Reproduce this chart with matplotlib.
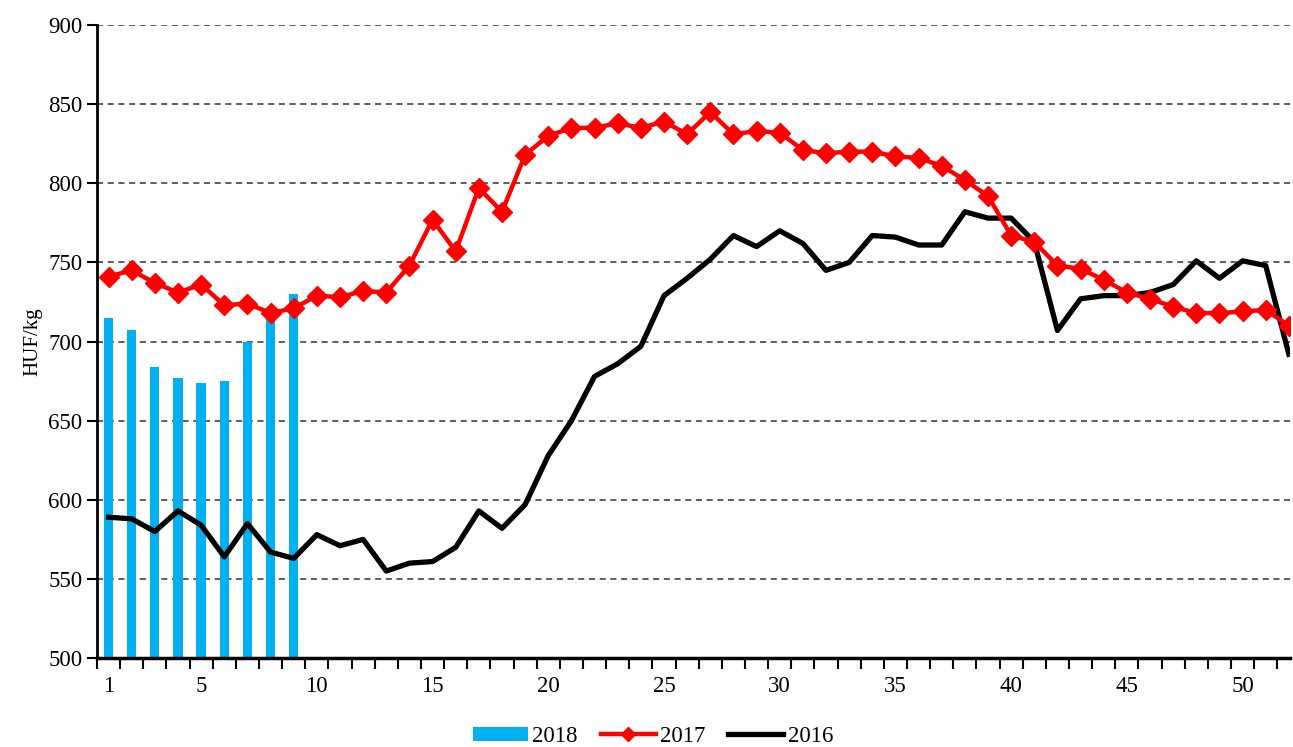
import matplotlib
matplotlib.use('Agg')
import matplotlib.pyplot as plt
from matplotlib.ticker import FixedLocator, NullFormatter

plt.rcParams['font.family'] = ['Liberation Serif', 'DejaVu Serif']

weeks = list(range(1, 53))

weeks_2018 = list(range(1, 10))
price_2018 = [715, 707, 684, 677, 674, 675, 700, 717, 730]

price_2017 = [741, 745, 737, 731, 736, 723, 724, 718, 721, 729,
              728, 732, 731, 748, 777, 757, 797, 782, 818, 830,
              835, 835, 838, 835, 839, 831, 845, 831, 833, 832,
              821, 819, 820, 820, 817, 816, 811, 802, 792, 767,
              763, 748, 746, 739, 731, 727, 722, 718, 718, 719,
              720, 710]

price_2016 = [589, 588, 580, 593, 584, 564, 585, 567, 563, 578,
              571, 575, 555, 560, 561, 570, 593, 582, 597, 628,
              650, 678, 686, 697, 729, 740, 752, 767, 760, 770,
              762, 745, 750, 767, 766, 761, 761, 782, 778, 778,
              763, 707, 727, 729, 729, 731, 736, 751, 740, 751,
              748, 692]


def driver():
    fig = plt.figure(figsize=(12.93, 7.47), dpi=100)
    ax = fig.add_axes([0.075, 0.119, 0.9227, 0.8475])

    bars = ax.bar(weeks_2018, price_2018, width=0.4, bottom=0, color='#00B0F0',
                  label='2018', zorder=2)
    l17, = ax.plot(weeks, price_2017, color='#FF0000', lw=3.2, marker='D',
                   markersize=10, label='2017', zorder=4)
    l16, = ax.plot(weeks, price_2016, color='black', lw=3.8, label='2016', zorder=3)

    ax.set_ylim(500, 900)
    ax.set_xlim(0.5, 52.05)
    ax.set_yticks(range(500, 901, 50))
    ax.yaxis.grid(True, linestyle=(0, (4, 3)), color='#333333', lw=1.1, zorder=0)
    ax.set_axisbelow(True)

    ax.set_xticks([1, 5, 10, 15, 20, 25, 30, 35, 40, 45, 50])
    ax.xaxis.set_minor_locator(FixedLocator([w + 0.5 for w in range(0, 52)]))
    ax.xaxis.set_minor_formatter(NullFormatter())
    ax.tick_params(axis='x', which='major', length=0, pad=13, labelsize=16.5)
    ax.tick_params(axis='x', which='minor', length=8, width=1.5, direction='out')
    ax.tick_params(axis='y', length=7, width=1.5, direction='out', labelsize=16.5)

    for s in ['top', 'right']:
        ax.spines[s].set_visible(False)
    ax.spines['left'].set_linewidth(2)
    ax.spines['bottom'].set_linewidth(2.5)
    ax.spines['bottom'].set_zorder(5)

    ax.set_ylabel('HUF/kg', fontsize=15, labelpad=4)

    fig.legend([bars, l17, l16], ['2018', '2017', '2016'],
               loc='center', bbox_to_anchor=(0.505, 0.014), ncol=3,
               frameon=False, fontsize=16.5, handlelength=2.4,
               handleheight=0.6, markerscale=0.7,
               columnspacing=1.0, handletextpad=0.2)

    fig.savefig('out.png', dpi=100)


def main():
    driver()


main()
